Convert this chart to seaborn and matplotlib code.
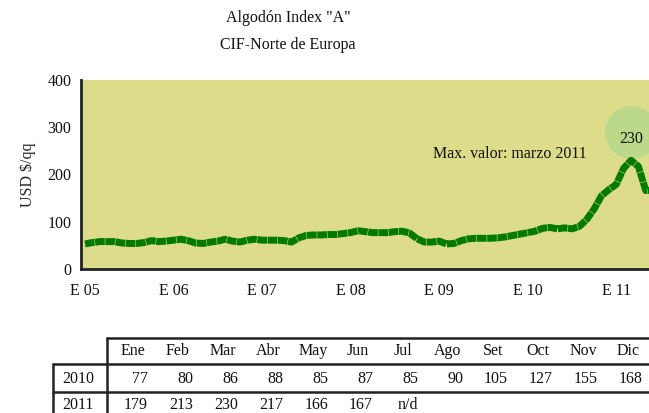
import numpy as np
import pandas as pd
import matplotlib
matplotlib.use("Agg")
import matplotlib.pyplot as plt
import seaborn as sns

# monthly index values, Jan 2005 .. Jun 2011
vals_2005 = [53, 56, 58, 58, 58, 55, 54, 54, 56, 60, 58, 59]
vals_2006 = [61, 63, 60, 55, 54, 57, 59, 63, 59, 57, 61, 63]
vals_2007 = [61, 61, 61, 60, 57, 66, 71, 72, 72, 73, 73, 75]
vals_2008 = [77, 81, 79, 77, 77, 77, 79, 80, 76, 64, 57, 57]
vals_2009 = [59, 53, 54, 60, 64, 65, 65, 65, 66, 68, 71, 74]
vals_2010 = [77, 80, 86, 88, 85, 87, 85, 90, 105, 127, 155, 168]
vals_2011 = [179, 213, 230, 217, 166, 167]

year_labels = ["E 05", "E 06", "E 07", "E 08", "E 09", "E 10", "E 11"]
months = ["Ene", "Feb", "Mar", "Abr", "May", "Jun", "Jul", "Ago", "Set", "Oct", "Nov", "Dic"]
tabla_2010 = ["77", "80", "86", "88", "85", "87", "85", "90", "105", "127", "155", "168"]
tabla_2011 = ["179", "213", "230", "217", "166", "167", "n/d"]

serie = vals_2005 + vals_2006 + vals_2007 + vals_2008 + vals_2009 + vals_2010 + vals_2011
df = pd.DataFrame({"mes": np.arange(len(serie)), "valor": serie})

sns.set_style("white")
plt.rcParams["font.family"] = ["Liberation Serif", "DejaVu Serif"]
plt.rcParams["text.color"] = "#111111"

W, H = 649, 413
fig = plt.figure(figsize=(W / 100, H / 100), dpi=100)
ax = fig.add_axes([81 / W, 1 - 269 / H, (662 - 81) / W, 189 / H])
ax.set_facecolor("#DCDC8A")

sns.lineplot(data=df, x="mes", y="valor", ax=ax, color="#007A00", linewidth=5,
             dashes=False)
ax.lines[0].set_dashes((1.4, 0.08))
ax.lines[0].set_dash_capstyle("butt")

ax.set_xlim(-0.54, 78.2)
ax.set_ylim(0, 400)
ax.set_xticks(np.arange(0, 73, 12))
ax.set_xticklabels(year_labels)
ax.set_xticks(np.arange(0, 79), minor=True)
ax.set_yticks([0, 100, 200, 300, 400])
ax.tick_params(axis="both", labelsize=11.5, colors="#111111")
ax.tick_params(axis="x", which="major", length=0, pad=10)
ax.tick_params(axis="x", which="minor", length=3, width=1.6, direction="out", color="#222222")
ax.tick_params(axis="y", length=5, width=1.6, direction="out", color="#222222", pad=2)
ax.set_xlabel("")
ax.set_ylabel("USD $/qq", fontsize=11.5, labelpad=8)
for s in ["top", "right"]:
    ax.spines[s].set_visible(False)
for s in ["left", "bottom"]:
    ax.spines[s].set_color("#222222")
    ax.spines[s].set_linewidth(2)

# maximum marker
i_max = int(np.argmax(serie))
v_max = serie[i_max]
ax.scatter([i_max], [v_max + 60], s=1450, color="#BCD88A", zorder=1, linewidths=0)
ax.text(i_max, v_max + 45, str(v_max), ha="center", va="center", fontsize=11.5)
ax.text(57.6, v_max + 13, "Max. valor: marzo 2011", ha="center", va="center", fontsize=11.5)

fig.text(288 / W, 1 - 18 / H, 'Algodón Index "A"', ha="center", va="center", fontsize=11.5)
fig.text(288 / W, 1 - 45 / H, "CIF-Norte de Europa", ha="center", va="center", fontsize=11.5)

# table below the chart
def fx(px):
    return px / W

def fy(py):
    return 1 - py / H

lw = 1.8
fig.add_artist(plt.Line2D([fx(107), fx(660)], [fy(337.5), fy(337.5)], color="#222222", lw=lw))
fig.add_artist(plt.Line2D([fx(52.5), fx(660)], [fy(364), fy(364)], color="#222222", lw=lw))
fig.add_artist(plt.Line2D([fx(52.5), fx(660)], [fy(391.5), fy(391.5)], color="#222222", lw=lw))
fig.add_artist(plt.Line2D([fx(107), fx(107)], [fy(337.5), fy(420)], color="#222222", lw=lw))
fig.add_artist(plt.Line2D([fx(52.5), fx(52.5)], [fy(364), fy(420)], color="#222222", lw=lw))

fig.text(fx(78), fy(379), "2010", ha="center", va="center", fontsize=11.5)
fig.text(fx(78), fy(405), "2011", ha="center", va="center", fontsize=11.5)
for j, m in enumerate(months):
    left = 110.5 + 45 * j
    fig.text(fx(left + 22.5), fy(351), m, ha="center", va="center", fontsize=11.5)
for j, v in enumerate(tabla_2010):
    left = 110.5 + 45 * j
    fig.text(fx(left + 37.5), fy(379), v, ha="right", va="center", fontsize=11.5)
for j, v in enumerate(tabla_2011):
    left = 110.5 + 45 * j
    fig.text(fx(left + 37.5), fy(405), v, ha="right", va="center", fontsize=11.5)

fig.savefig("out.png", dpi=100)
